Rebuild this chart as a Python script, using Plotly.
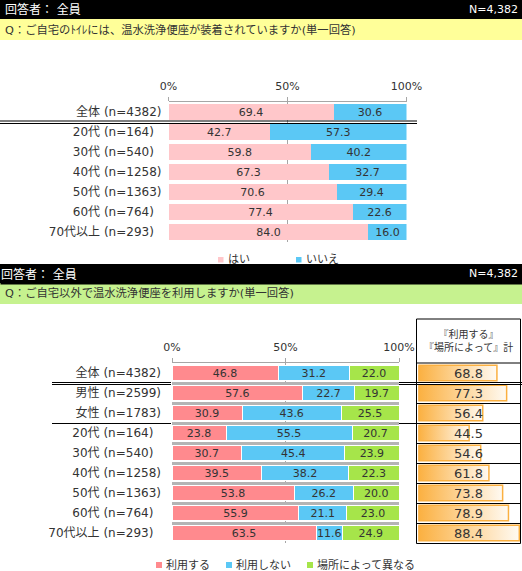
# Two stacked bar panels about warm-water bidet toilet seats, plus a side panel of totals

import plotly.graph_objs as go

#Data
groups1 = ['全体', '20代', '30代', '40代', '50代', '60代', '70代以上']
counts1 = [4382, 164, 540, 1258, 1363, 764, 293]
names1 = ['はい', 'いいえ']
hai = [69.4, 42.7, 59.8, 67.3, 70.6, 77.4, 84.0]
iie = [30.6, 57.3, 40.2, 32.7, 29.4, 22.6, 16.0]

groups2 = ['全体', '男性', '女性', '20代', '30代', '40代', '50代', '60代', '70代以上']
counts2 = [4382, 2599, 1783, 164, 540, 1258, 1363, 764, 293]
names2 = ['利用する', '利用しない', '場所によって異なる']
riyou = [46.8, 57.6, 30.9, 23.8, 30.7, 39.5, 53.8, 55.9, 63.5]
shinai = [31.2, 22.7, 43.6, 55.5, 45.4, 38.2, 26.2, 21.1, 11.6]
basho = [22.0, 19.7, 25.5, 20.7, 23.9, 22.3, 20.0, 23.0, 24.9]
total = [68.8, 77.3, 56.4, 44.5, 54.6, 61.8, 73.8, 78.9, 88.4]

question1 = 'Q：ご自宅のﾄｲﾚには、温水洗浄便座が装着されていますか(単一回答)'
question2 = 'Q：ご自宅以外で温水洗浄便座を利用しますか(単一回答)'
respondent = '回答者： 全員'
base = 'N=4,382'
total_title = '『利用する』<br>『場所によって』計'

W, H = 522, 571
FONT = 'DejaVu Sans, Noto Sans CJK JP'
TEXT = '#333333'
PINK, BLUE, RED, GREEN = '#FFC7CA', '#5BC8F5', '#FF8A8E', '#A6E54A'
ORANGE = '#FBB040'

# helpers, everything below is laid out in pixels of the 522x571 window
def px(x):
    return x / W

def py(y):
    return 1 - y / H

def labels(groups, counts):
    # the "(n=" lines up, so short counts get padded with figure spaces
    return [f'{g} (n={n})' + '\u2007' * (4 - len(str(n))) for g, n in zip(groups, counts)]

def line(x0, x1, y, width=1):
    return dict(type='line', xref='paper', yref='paper', x0=px(x0), x1=px(x1), y0=py(y), y1=py(y),
                line=dict(color='black', width=width), layer='above')

def band(y0, y1, color):
    return dict(type='rect', xref='paper', yref='paper', x0=0, x1=1, y0=py(y1), y1=py(y0),
                fillcolor=color, line_width=0, layer='below')

def note(text, x, y, size=11, color=TEXT, anchor='center', **kw):
    return dict(text=text, xref='paper', yref='paper', x=px(x), y=py(y), showarrow=False,
                xanchor=anchor, yanchor='middle', font=dict(size=size, color=color, family=FONT), **kw)

labels1 = labels(groups1, counts1)
labels2 = labels(groups2, counts2)

data = []
for name, vals, color in [(names1[0], hai, PINK), (names1[1], iie, BLUE)]:
    data.append(go.Bar(name=name, x=vals, y=labels1, orientation='h', width=0.82,
                       marker=dict(color=color, line_width=0),
                       text=[f'{v:.1f}' for v in vals], textposition='inside', insidetextanchor='middle',
                       textangle=0, constraintext='none', textfont=dict(size=11, color=TEXT),
                       xaxis='x', yaxis='y'))

for name, vals, color in [(names2[0], riyou, RED), (names2[1], shinai, BLUE), (names2[2], basho, GREEN)]:
    data.append(go.Bar(name=name, x=vals, y=labels2, orientation='h', width=0.76,
                       marker=dict(color=color, line=dict(color='white', width=1)),
                       text=[f'{v:.1f}' for v in vals], textposition='inside', insidetextanchor='middle',
                       textangle=0, constraintext='none', textfont=dict(size=11, color=TEXT),
                       xaxis='x2', yaxis='y2'))

# side panel: gradient rectangles with an orange outline, row index is the y position
half = 0.39
for i, v in enumerate(total):
    data.append(go.Scatter(x=[0, v, v, 0, 0], y=[i - half, i - half, i + half, i + half, i - half],
                           mode='lines', fill='toself', line=dict(color=ORANGE, width=1.5),
                           fillgradient=dict(type='horizontal', start=0, stop=v,
                                             colorscale=[[0, ORANGE], [1, '#FFFAF2']]),
                           xaxis='x3', yaxis='y3', hoverinfo='skip'))

shapes = [band(0, 19, 'black'), band(19, 40, '#FFFF99'), band(264, 283, 'black'), band(283, 304, '#C6F28F')]
shapes += [line(0, 417, 121), line(0, 417, 123.5)]
# the separators stop at the grey strips of the bar area
shapes += [line(52, 171, 382.5), line(52, 171, 384.5), line(399, 522, 382.5), line(399, 522, 384.5)]
shapes += [line(52, 171, 423.5), line(399, 416.5, 423.5)]
shapes.append(dict(type='rect', xref='paper', yref='paper', x0=px(416.5), x1=px(520.5), y0=py(543.5), y1=py(319),
                   line=dict(color='black', width=1), layer='above'))
for y in [363, 403.5, 423.5, 443.5, 463.5, 483.5, 503.5, 523.5]:
    shapes.append(line(416.5, 520.5, y))

annotations = []
# legends, the first one runs under the next black header just like the picture
for name, color, x in [(names1[0], PINK, 218), (names1[1], BLUE, 296)]:
    shapes.append(dict(type='rect', xref='paper', yref='paper', x0=px(x), x1=px(x + 5.5), y0=py(262.5), y1=py(257),
                       fillcolor=color, line_width=0))
    annotations.append(note(name, x + 8, 259.5, size=11, anchor='left'))
for name, color, x in [(names2[0], RED, 156), (names2[1], BLUE, 226), (names2[2], GREEN, 307)]:
    shapes.append(dict(type='rect', xref='paper', yref='paper', x0=px(x), x1=px(x + 6), y0=py(568), y1=py(562),
                       fillcolor=color, line_width=0))
    annotations.append(note(name, x + 8, 565, size=11, anchor='left'))

# header text, the black label cell sits on top of the clipped legend text
annotations.append(dict(text=respondent, xref='paper', yref='paper', x=0, y=py(264), xanchor='left', yanchor='top',
                        showarrow=False, width=W, height=19, align='left', bgcolor='black', borderpad=0,
                        font=dict(size=12, color='white', family=FONT)))
annotations += [
    note(respondent, 3, 9.5, size=12, color='white', anchor='left'),
    note(base, 519.5, 9.5, color='white', anchor='right'),
    note(base, 519.5, 273.5, color='white', anchor='right'),
    note(question1, 3, 29.5, size=11.3, anchor='left'),
    note(question2, 3, 293.5, size=11.3, anchor='left'),
    note(total_title, 468, 341, size=10),
]
for i, v in enumerate(total):
    annotations.append(dict(text=f'{v:.1f}', xref='paper', yref='y3', x=px(468), y=i, showarrow=False,
                            xanchor='center', yanchor='middle',
                            font=dict(size=13, color=TEXT, family=FONT)))

xaxis_common = dict(range=[0, 100], side='top', tickvals=[0, 50, 100], ticktext=['0%', '50%', '100%'],
                    ticks='outside', ticklen=4, tickcolor='#A6A6A6', showline=True, linecolor='#A6A6A6',
                    showgrid=True, gridcolor='#A6A6A6', zeroline=False, ticklabelstandoff=3,
                    tickfont=dict(size=11, color=TEXT))
yaxis_common = dict(autorange='reversed', showline=False, zeroline=False, ticks='',
                    tickfont=dict(size=12, color=TEXT))

layout = go.Layout(width=W, height=H, margin=dict(l=0, r=0, t=0, b=0, autoexpand=False), barmode='stack',
                   paper_bgcolor='white', plot_bgcolor='white', showlegend=False,
                   font=dict(family=FONT, color=TEXT), shapes=shapes, annotations=annotations,
                   xaxis=dict(domain=[px(168.5), px(406.5)], anchor='y', **xaxis_common),
                   yaxis=dict(domain=[py(242), py(102)], anchor='x', showgrid=False, ticklabelstandoff=6,
                              **yaxis_common),
                   xaxis2=dict(domain=[px(172), px(399)], anchor='y2', **xaxis_common),
                   yaxis2=dict(domain=[py(543), py(363)], anchor='x2', showgrid=True, tickson='boundaries',
                               gridcolor='#B4B4B4', gridwidth=3, ticklabelstandoff=10, **yaxis_common),
                   xaxis3=dict(domain=[px(418.3), px(520)], range=[0, 89], anchor='y3', visible=False),
                   yaxis3=dict(domain=[py(543), py(363)], range=[8.5, -0.5], anchor='x3', visible=False))

fig = go.Figure(data=data, layout=layout)
fig.write_html('out.html', config={'displayModeBar': False},
               post_script="document.body.style.margin='0';")
